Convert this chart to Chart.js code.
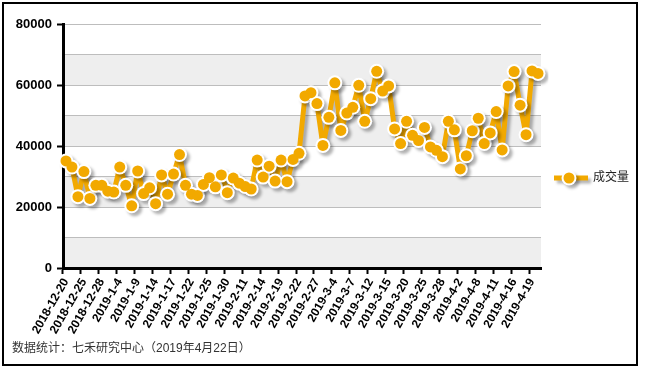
<!DOCTYPE html>
<html>
<head>
<meta charset="utf-8">
<script src="https://cdn.jsdelivr.net/npm/chart.js@4"></script>
<style>
  html, body { margin: 0; padding: 0; background: #fff; }
  #wrap { width: 645px; height: 368px; position: relative; }
  canvas { display: block; }
</style>
</head>
<body>
<div id="wrap"><canvas id="c" width="645" height="368"></canvas></div>
<script>
// ---- data ----
const dates = [
  '2018-12-20','2018-12-21','2018-12-24','2018-12-25','2018-12-26','2018-12-27','2018-12-28',
  '2019-1-2','2019-1-3','2019-1-4','2019-1-7','2019-1-8','2019-1-9','2019-1-10','2019-1-11',
  '2019-1-14','2019-1-15','2019-1-16','2019-1-17','2019-1-18','2019-1-21','2019-1-22','2019-1-23',
  '2019-1-24','2019-1-25','2019-1-28','2019-1-29','2019-1-30','2019-1-31','2019-2-1',
  '2019-2-11','2019-2-12','2019-2-13','2019-2-14','2019-2-15','2019-2-18','2019-2-19','2019-2-20',
  '2019-2-21','2019-2-22','2019-2-25','2019-2-26','2019-2-27','2019-2-28','2019-3-1',
  '2019-3-4','2019-3-5','2019-3-6','2019-3-7','2019-3-8','2019-3-11','2019-3-12','2019-3-13',
  '2019-3-14','2019-3-15','2019-3-18','2019-3-19','2019-3-20','2019-3-21','2019-3-22',
  '2019-3-25','2019-3-26','2019-3-27','2019-3-28','2019-3-29','2019-4-1','2019-4-2','2019-4-3',
  '2019-4-4','2019-4-8','2019-4-9','2019-4-10','2019-4-11','2019-4-12','2019-4-15','2019-4-16',
  '2019-4-17','2019-4-18','2019-4-19','2019-4-22'
];
const volume = [
  35100, 33100, 23400, 31600, 22800, 27100, 27100, 25200, 24900, 33100,
  27100, 20400, 31800, 24400, 26300, 21100, 30500, 24200, 30800, 37200,
  27100, 24200, 23800, 27400, 29600, 26600, 30500, 24700, 29500, 27800,
  26700, 25900, 35400, 29800, 33400, 28500, 35400, 28300, 35600, 37600,
  56400, 57500, 53900, 40200, 49400, 60700, 45100, 50800, 52700, 59900,
  48100, 55500, 64500, 58000, 59700, 45600, 40800, 48100, 43500, 41800,
  46100, 39700, 38600, 36500, 48100, 45300, 32500, 36800, 45000, 49100,
  40800, 44300, 51300, 38700, 59700, 64400, 53400, 43700, 64600, 63800
];
const seriesName = '成交量';
const yTickValues = [0, 20000, 40000, 60000, 80000];
const labelEvery = 3;
const footerText = '数据统计：七禾研究中心（2019年4月22日）';

// ---- styles ----
const ORANGE = '#F2A900';
const LABEL_FONT = '"Liberation Sans", Arial, sans-serif';
const CJK_FONT = '"Liberation Sans", "Noto Sans CJK SC", sans-serif';
const SHADOW = 'rgba(0,0,0,0.3)';

const bandsPlugin = {
  id: 'bands',
  beforeDraw(chart) {
    const { ctx, chartArea, scales } = chart;
    const y = scales.y;
    ctx.save();
    ctx.fillStyle = '#eeeeee';
    for (let v = 0; v < 80000; v += 20000) {
      const top = y.getPixelForValue(v + 10000);
      const bot = y.getPixelForValue(v);
      ctx.fillRect(chartArea.left, top, chartArea.right - chartArea.left, bot - top);
    }
    ctx.restore();
  }
};

const shadowPlugin = {
  id: 'shadow',
  beforeDatasetDraw(chart, args) {
    const ctx = chart.ctx;
    ctx.save();
    if (args.index < 2) {
      ctx.shadowColor = SHADOW;
      ctx.shadowBlur = 3;
      ctx.shadowOffsetX = 3;
      ctx.shadowOffsetY = 3;
    }
  },
  afterDatasetDraw(chart) {
    chart.ctx.restore();
  }
};

const extrasPlugin = {
  id: 'extras',
  afterDraw(chart) {
    const ctx = chart.ctx;
    ctx.save();
    // legend
    const ly = 178;
    ctx.shadowColor = SHADOW;
    ctx.shadowBlur = 3;
    ctx.shadowOffsetX = 3;
    ctx.shadowOffsetY = 3;
    ctx.strokeStyle = ORANGE;
    ctx.lineWidth = 5;
    ctx.beginPath();
    ctx.moveTo(554, ly);
    ctx.lineTo(588, ly);
    ctx.stroke();
    ctx.beginPath();
    ctx.arc(569, ly, 7.5, 0, Math.PI * 2);
    ctx.fillStyle = '#fff';
    ctx.fill();
    ctx.shadowColor = 'transparent';
    ctx.beginPath();
    ctx.arc(569, ly, 5.5, 0, Math.PI * 2);
    ctx.fillStyle = ORANGE;
    ctx.fill();
    ctx.fillStyle = '#222';
    ctx.font = '12px ' + CJK_FONT;
    ctx.textBaseline = 'middle';
    ctx.textAlign = 'left';
    ctx.fillText(seriesName, 593, ly);
    // footer
    ctx.fillStyle = '#333';
    ctx.font = '12px ' + CJK_FONT;
    ctx.fillText(footerText, 12, 349);
    // frame
    ctx.strokeStyle = '#000';
    ctx.lineWidth = 2;
    ctx.strokeRect(3, 3, 634, 362);
    ctx.restore();
  }
};

new Chart(document.getElementById('c'), {
  type: 'line',
  data: {
    labels: dates,
    datasets: [{
      label: seriesName,
      data: volume,
      order: 3,
      borderColor: ORANGE,
      borderWidth: 5,
      borderJoinStyle: 'round',
      borderCapStyle: 'round',
      tension: 0,
      pointRadius: 0,
      fill: false
    }, {
      label: seriesName + '-ring',
      data: volume,
      order: 2,
      showLine: false,
      pointRadius: 7.5,
      pointBorderWidth: 0,
      pointBackgroundColor: '#ffffff',
      pointBorderColor: '#ffffff'
    }, {
      label: seriesName + '-dot',
      data: volume,
      order: 1,
      showLine: false,
      pointRadius: 5.5,
      pointBorderWidth: 0,
      pointBackgroundColor: ORANGE,
      pointBorderColor: ORANGE
    }]
  },
  options: {
    responsive: false,
    animation: false,
    devicePixelRatio: 1,
    layout: { padding: { top: 24, right: 104, left: 0, bottom: 0 } },
    plugins: { legend: { display: false }, tooltip: { enabled: false } },
    scales: {
      x: {
        type: 'category',
        offset: true,
        afterFit(scale) { scale.height = 100; },
        grid: {
          offset: true,
          drawOnChartArea: false,
          drawTicks: true,
          tickLength: 6,
          tickWidth: 2,
          tickColor: (c) => (c.index % labelEvery === 0 && c.index < dates.length) ? '#000' : 'rgba(0,0,0,0)'
        },
        border: { color: '#000', width: 3 },
        ticks: {
          autoSkip: false,
          maxRotation: 60,
          minRotation: 60,
          padding: 2,
          color: '#000',
          font: { family: LABEL_FONT, size: 12, weight: 'bold' },
          callback: function(v, i) { return i % labelEvery === 0 ? dates[i] : ''; }
        }
      },
      y: {
        min: 0,
        max: 80000,
        afterFit(scale) { scale.width = 63; },
        afterBuildTicks(scale) {
          const t = [];
          for (let v = 0; v <= 80000; v += 10000) t.push({ value: v });
          scale.ticks = t;
        },
        grid: {
          color: '#bdbdbd',
          lineWidth: 1,
          tickLength: 6,
          tickWidth: 2,
          tickColor: (c) => (c.tick && yTickValues.includes(c.tick.value)) ? '#000' : 'rgba(0,0,0,0)'
        },
        border: { color: '#000', width: 3 },
        ticks: {
          padding: 5,
          color: '#000',
          font: { family: LABEL_FONT, size: 13, weight: 'bold' },
          callback: (v) => yTickValues.includes(v) ? String(v) : ''
        }
      }
    }
  },
  plugins: [bandsPlugin, shadowPlugin, extrasPlugin]
});
</script>
</body>
</html>
